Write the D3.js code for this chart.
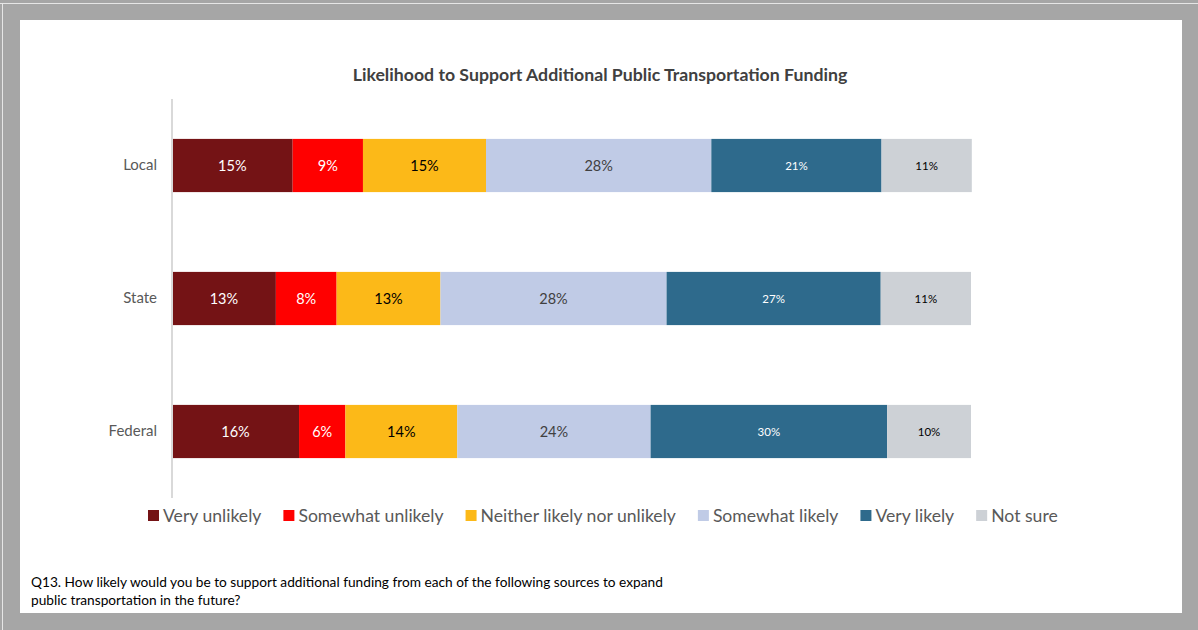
<!DOCTYPE html>
<html>
<head>
<meta charset="utf-8">
<script src="https://cdn.jsdelivr.net/npm/d3@7"></script>
<style>
  html, body { margin: 0; padding: 0; background: #a6a6a6; }
  svg { display: block; font-family: Lato, "Open Sans", sans-serif; }
</style>
</head>
<body>
<div id="container"></div>
<script>
// survey data (shares)
var categories = ["Local", "State", "Federal"];
var seriesNames = ["Very unlikely", "Somewhat unlikely", "Neither likely nor unlikely", "Somewhat likely", "Very likely", "Not sure"];
var veryUnlikely     = [0.151, 0.130, 0.159];
var somewhatUnlikely = [0.088, 0.076, 0.058];
var neither          = [0.154, 0.130, 0.140];
var somewhatLikely   = [0.282, 0.283, 0.242];
var veryLikely       = [0.213, 0.268, 0.296];
var notSure          = [0.113, 0.113, 0.105];

var colors = ["#741315", "#ff0000", "#fcb918", "#c0cbe6", "#2e6a8c", "#cdd1d6"];
var labelColors = ["#ffffff", "#ffffff", "#000000", "#404040", "#ffffff", "#000000"];
var labelSizes = [14.5, 14.5, 14.5, 14.5, 11.5, 11.5];

var width = 1198, height = 630;

var svg = d3.select("#container").append("svg")
    .attr("width", width)
    .attr("height", height);

// frame
svg.append("rect").attr("width", width).attr("height", height).attr("fill", "#a6a6a6");
svg.append("line").attr("x1", 0).attr("x2", width).attr("y1", 3.5).attr("y2", 3.5)
    .attr("stroke", "#e6e6e6").attr("stroke-width", 1);
svg.append("line").attr("x1", 2.5).attr("x2", 2.5).attr("y1", 3).attr("y2", height)
    .attr("stroke", "#e6e6e6").attr("stroke-width", 1);
svg.append("rect").attr("x", 20).attr("y", 20).attr("width", 1162).attr("height", 593).attr("fill", "#ffffff");

// title
svg.append("text")
    .attr("x", 600).attr("y", 81)
    .attr("text-anchor", "middle")
    .attr("font-size", 17.7).attr("font-weight", "bold").attr("fill", "#404040")
    .text("Likelihood to Support Additional Public Transportation Funding");

var x = d3.scaleLinear().domain([0, 1]).range([172, 971]);
var y = d3.scaleBand().domain(categories).range([99, 498]).paddingInner(0.6).paddingOuter(0.3);

var rows = categories.map(function(c, i) {
    return { cat: c, "Very unlikely": veryUnlikely[i], "Somewhat unlikely": somewhatUnlikely[i],
        "Neither likely nor unlikely": neither[i], "Somewhat likely": somewhatLikely[i],
        "Very likely": veryLikely[i], "Not sure": notSure[i] };
});
var stacked = d3.stack().keys(seriesNames)(rows);

var layers = svg.append("g").selectAll("g")
    .data(stacked)
    .enter().append("g")
    .attr("fill", function(d, i) { return colors[i]; });

layers.selectAll("rect")
    .data(function(d) { return d; })
    .enter().append("rect")
    .attr("x", function(d) { return x(d[0]); })
    .attr("y", function(d) { return y(d.data.cat); })
    .attr("width", function(d) { return x(d[1]) - x(d[0]); })
    .attr("height", y.bandwidth());

var fmt = d3.format(".0%");
stacked.forEach(function(layer, i) {
    svg.append("g").selectAll("text")
        .data(layer)
        .enter().append("text")
        .attr("x", function(d) { return (x(d[0]) + x(d[1])) / 2; })
        .attr("y", function(d) { return y(d.data.cat) + y.bandwidth() / 2; })
        .attr("dy", "0.35em")
        .attr("text-anchor", "middle")
        .attr("font-size", labelSizes[i])
        .attr("fill", labelColors[i])
        .text(function(d) { return fmt(d[1] - d[0]); });
});

// category axis
var yAxis = svg.append("g")
    .attr("transform", "translate(172,0)")
    .call(d3.axisLeft(y).tickSize(0).tickPadding(15));
yAxis.select(".domain").remove();
yAxis.selectAll("text").attr("font-size", 15).attr("fill", "#595959").attr("font-family", "Lato, sans-serif");
svg.append("line")
    .attr("x1", 172).attr("x2", 172).attr("y1", 99).attr("y2", 498)
    .attr("stroke", "#d9d9d9").attr("stroke-width", 2);

// legend
var legend = svg.append("g").attr("transform", "translate(0,516)");
var lx = 148;
seriesNames.forEach(function(name, i) {
    var g = legend.append("g").attr("transform", "translate(" + lx + ",0)");
    g.append("rect").attr("x", 0).attr("y", -6).attr("width", 11).attr("height", 11).attr("fill", colors[i]);
    var t = g.append("text").attr("x", 15).attr("dy", "0.35em")
        .attr("font-size", 17.6).attr("fill", "#595959").text(name);
    lx += 15 + t.node().getComputedTextLength() + 22;
});

// footnote
var note = svg.append("text").attr("font-size", 13.7).attr("fill", "#000000");
note.append("tspan").attr("x", 31).attr("y", 587)
    .text("Q13. How likely would you be to support additional funding from each of the following sources to expand");
note.append("tspan").attr("x", 31).attr("y", 605)
    .text("public transportation in the future?");
</script>
</body>
</html>
